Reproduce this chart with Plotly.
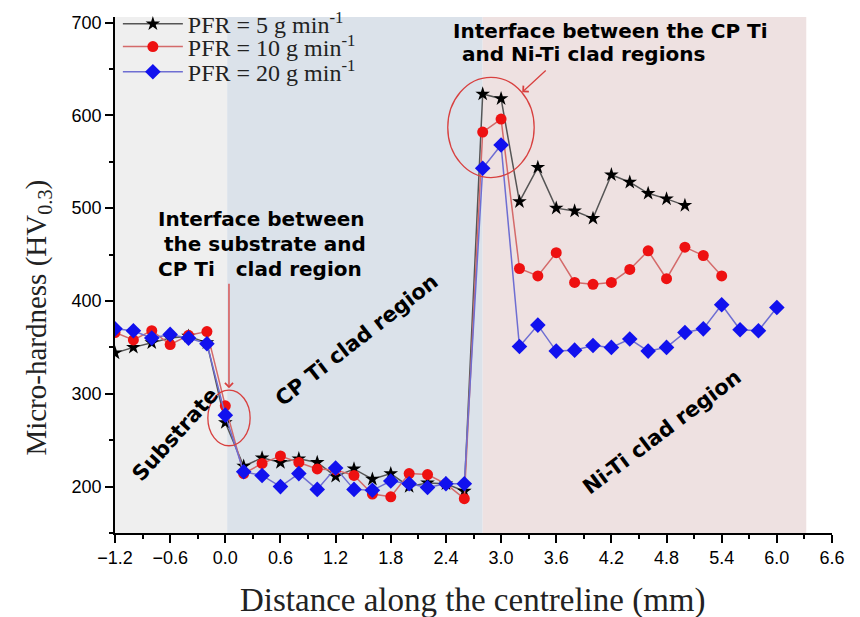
import plotly.graph_objects as go

distance = [-1.2, -1.0, -0.8, -0.6, -0.4, -0.2, 0.0, 0.2, 0.4, 0.6, 0.8, 1.0, 1.2, 1.4,
            1.6, 1.8, 2.0, 2.2, 2.4, 2.6, 2.8, 3.0, 3.2, 3.4, 3.6, 3.8, 4.0, 4.2, 4.4,
            4.6, 4.8, 5.0, 5.2, 5.4, 5.6, 5.8, 6.0]

hv_pfr5 = [344, 350, 355, 360, 362, 355, 269, 222, 231, 226, 230, 226, 211, 219,
           208, 214, 200, 204, 203, 195, 623, 618, 507, 544, 500, 497, 489, 536, 528,
           516, 510, 503]
hv_pfr10 = [366, 358, 368, 353, 363, 367, 287, 214, 225, 233, 226, 219, 218, 212,
            192, 189, 214, 213, 203, 187, 582, 596, 435, 427, 452, 420, 418, 420, 434,
            454, 424, 458, 449, 427]
hv_pfr20 = [370, 368, 360, 364, 360, 354, 277, 216, 212, 200, 214, 197, 220, 197,
            196, 206, 203, 199, 203, 203, 543, 568, 351, 374, 346, 347, 352, 350, 359,
            346, 350, 366, 370, 396, 369, 368, 393]

series_names = ["PFR = 5 g min<sup>-1</sup>", "PFR = 10 g min<sup>-1</sup>", "PFR = 20 g min<sup>-1</sup>"]

x_ticks = [-1.2, -0.6, 0.0, 0.6, 1.2, 1.8, 2.4, 3.0, 3.6, 4.2, 4.8, 5.4, 6.0, 6.6]
y_ticks = [200, 300, 400, 500, 600, 700]

regions = [(-1.2, 0.02, "#efefef"), (0.02, 2.8, "#dbe2ea"), (2.8, 6.32, "#eee1e1")]

fig = go.Figure()

fig.add_trace(go.Scatter(
    x=distance[:len(hv_pfr5)], y=hv_pfr5, name=series_names[0], mode="lines+markers",
    line=dict(color="#555555", width=1.5), legend="legend",
    marker=dict(symbol="star", size=11, color="#000000")))
fig.add_trace(go.Scatter(
    x=distance[:len(hv_pfr10)], y=hv_pfr10, name=series_names[1], mode="lines+markers",
    line=dict(color="#d46a6a", width=1.5), legend="legend2",
    marker=dict(symbol="circle", size=11, color="#ee1111")))
fig.add_trace(go.Scatter(
    x=distance[:len(hv_pfr20)], y=hv_pfr20, name=series_names[2], mode="lines+markers",
    line=dict(color="#6e6ed2", width=1.5), legend="legend3",
    marker=dict(symbol="diamond", size=12, color="#1111ee")))

for x0, x1, c in regions:
    fig.add_shape(type="rect", xref="x", yref="paper", x0=x0, x1=x1, y0=0, y1=1,
                  fillcolor=c, line=dict(width=0), layer="below")

red = "#d8403f"
fig.add_shape(type="circle", xref="x", yref="y", x0=-0.19, x1=0.27, y0=244, y1=304,
              line=dict(color=red, width=1.3))
fig.add_shape(type="circle", xref="x", yref="y", x0=2.42, x1=3.36, y0=533, y1=641,
              line=dict(color=red, width=1.3))

fig.add_annotation(x=0.04, y=306, xref="x", yref="y", ax=0, ay=-106, text="",
                   showarrow=True, arrowhead=4, arrowsize=1.2, arrowwidth=1.3, arrowcolor=red)
fig.add_annotation(x=3.23, y=625, xref="x", yref="y", ax=25, ay=-23, text="",
                   showarrow=True, arrowhead=4, arrowsize=1.2, arrowwidth=1.3, arrowcolor=red)

bold = dict(family="DejaVu Sans, Verdana, sans-serif", size=20, color="black")
left_lines = [("<b>Interface between</b>", 0.39, 488),
              ("<b>the substrate and</b>", 0.43, 461),
              ("<b>CP Ti   clad region</b>", 0.38, 434)]
for txt, xv, yv in left_lines:
    fig.add_annotation(x=xv, y=yv, xref="x", yref="y", showarrow=False, text=txt, font=bold)
fig.add_annotation(x=2.46, y=691, xref="x", yref="y", showarrow=False, xanchor="left",
                   text="<b>Interface between the CP Ti</b>", font=bold)
fig.add_annotation(x=2.55, y=666, xref="x", yref="y", showarrow=False, xanchor="left",
                   text="<b>and Ni-Ti clad regions</b>", font=bold)

rot = dict(family="DejaVu Sans, Verdana, sans-serif", size=21, color="black")
fig.add_annotation(x=-0.55, y=256, xref="x", yref="y", showarrow=False, textangle=-48,
                   text="<b>Substrate</b>", font=rot)
fig.add_annotation(x=1.43, y=358, xref="x", yref="y", showarrow=False, textangle=-38,
                   text="<b>CP Ti clad region</b>", font=rot)
fig.add_annotation(x=4.75, y=259, xref="x", yref="y", showarrow=False, textangle=-37,
                   text="<b>Ni-Ti clad region</b>", font=rot)

serif = "Liberation Serif, Times New Roman, serif"
fig.add_annotation(x=-0.107, y=0.418, xref="paper", yref="paper", showarrow=False,
                   xanchor="center", yanchor="middle",
                   textangle=-90, text="Micro-hardness (HV<sub>0.3</sub>)",
                   font=dict(family=serif, size=29, color="#222222"))
fig.add_annotation(x=0.498, y=-0.13, xref="paper", yref="paper", showarrow=False,
                   xanchor="center", yanchor="middle",
                   text="Distance along the centreline (mm)",
                   font=dict(family=serif, size=33, color="#222222"))

axis_common = dict(showline=True, linecolor="black", linewidth=1.5, ticks="outside",
                   ticklen=8, tickwidth=1.5, tickcolor="black", showgrid=False, zeroline=False,
                   tickfont=dict(family="Liberation Sans, Arial, sans-serif", size=18, color="black"),
                   mirror=False, automargin=False)

fig.update_xaxes(range=[-1.2, 6.6], tickvals=x_ticks, tickformat=".1f",
                 minor=dict(dtick=0.3, tick0=-1.2, ticks="outside", ticklen=4, tickwidth=1.5,
                            tickcolor="black"),
                 **axis_common)
fig.update_yaxes(range=[150, 706], tickvals=y_ticks,
                 minor=dict(dtick=50, tick0=150, ticks="outside", ticklen=4, tickwidth=1.5,
                            tickcolor="black"),
                 **axis_common)

legend_common = dict(x=0.004, xanchor="left", yanchor="middle", bgcolor="rgba(0,0,0,0)",
                     font=dict(family=serif, size=24, color="#222222"), itemwidth=60)

fig.update_layout(
    width=860, height=617,
    margin=dict(l=107, r=36, t=9, b=92, autoexpand=False),
    paper_bgcolor="white", plot_bgcolor="white",
    showlegend=True,
    legend=dict(y=0.986, **legend_common),
    legend2=dict(y=0.942, **legend_common),
    legend3=dict(y=0.893, **legend_common),
)

fig.write_html("out.html")
